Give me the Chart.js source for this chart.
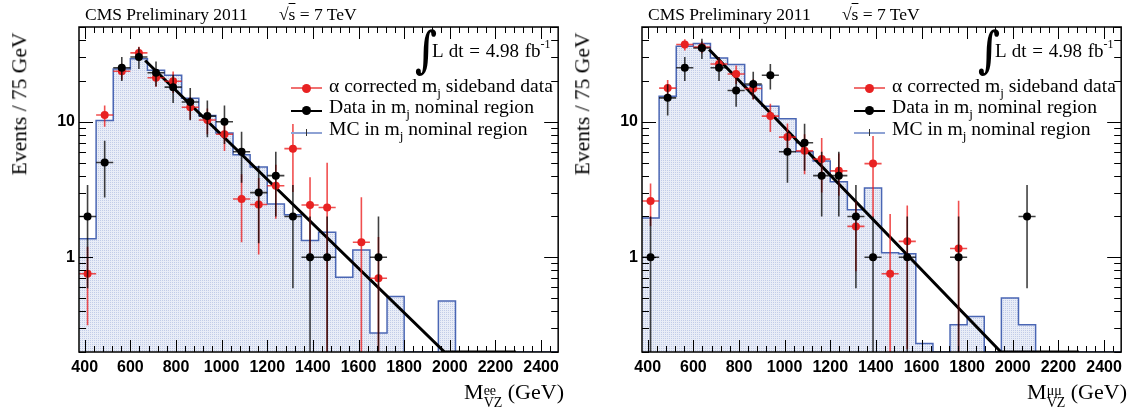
<!DOCTYPE html>
<html>
<head>
<meta charset="utf-8">
<script src="https://cdn.jsdelivr.net/npm/chart.js@4.4.1/dist/chart.umd.min.js"></script>
<style>
  body { margin: 0; background: #fff; width: 1131px; height: 408px; overflow: hidden; position: relative; }
  .panel { position: absolute; top: 0; width: 565px; height: 408px; font-family: 'Liberation Serif', 'Times New Roman', serif; color: #000; }
  .panel canvas { position: absolute; left: 0; top: 0; }
  .txt { position: absolute; white-space: nowrap; line-height: 1; }
  .txt sub { font-size: 13px; vertical-align: -5px; line-height: 0; }
  .txt sup { font-size: 12px; vertical-align: 9px; line-height: 0; }
  .head { top: 6px; font-size: 17.5px; }
  .lumi { left: 432px; top: 41px; font-size: 19px; word-spacing: 1px; }
  .integral { left: 415px; top: 29px; font-family: 'DejaVu Serif', serif; font-weight: bold; font-size: 38px; transform: scaleY(1.3); transform-origin: 50% 30%; }
  .legtxt { left: 329px; font-size: 19.6px; }
  .ytitle { left: 20px; top: 104px; font-size: 21.5px; transform: translate(-50%, -50%) rotate(-90deg); }
  .xtitle { right: 1px; top: 381px; font-size: 22px; }
  .supsub { display: inline-block; vertical-align: -8px; font-size: 14px; line-height: 12px; text-align: left; }
  .supsub span { display: block; }
  .leg-line { position: absolute; height: 2px; }
  .leg-dot { position: absolute; width: 9px; height: 9px; border-radius: 50%; }
</style>
</head>
<body>

<div class="panel" id="panelEE" style="left:0px">
  <canvas id="chartEE" width="565" height="408"></canvas>
  <div class="txt head" style="left:85px">CMS Preliminary 2011</div>
  <div class="txt head" style="left:279px">√<span style="text-decoration:overline">s</span> = 7 TeV</div>
  <div class="txt integral">∫</div>
  <div class="txt lumi">L dt = 4.98 fb<sup>-1</sup></div>
  <div class="leg-line" style="left:291px; top:87px; width:31px; background:#f07070"></div>
  <div class="leg-dot" style="left:302px; top:84px; background:#e82222"></div>
  <div class="txt legtxt" style="top:76px">α corrected m<sub>j</sub> sideband data</div>
  <div class="leg-line" style="left:291px; top:110px; width:31px; background:#000"></div>
  <div class="leg-dot" style="left:302px; top:106px; background:#000"></div>
  <div class="txt legtxt" style="top:97px">Data in m<sub>j</sub> nominal region</div>
  <div class="leg-line" style="left:291px; top:132px; width:31px; background:#8ea2d4"></div>
  <div class="leg-line" style="left:306px; top:129px; width:1px; height:7px; background:#333"></div>
  <div class="txt legtxt" style="top:119px">MC in m<sub>j</sub> nominal region</div>
  <div class="txt ytitle">Events / 75 GeV</div>
  <div class="txt xtitle">M<span class="supsub"><span>ee</span><span>VZ</span></span> (GeV)</div>
</div>

<div class="panel" id="panelMM" style="left:563px">
  <canvas id="chartMM" width="565" height="408"></canvas>
  <div class="txt head" style="left:85px">CMS Preliminary 2011</div>
  <div class="txt head" style="left:279px">√<span style="text-decoration:overline">s</span> = 7 TeV</div>
  <div class="txt integral">∫</div>
  <div class="txt lumi">L dt = 4.98 fb<sup>-1</sup></div>
  <div class="leg-line" style="left:291px; top:87px; width:31px; background:#f07070"></div>
  <div class="leg-dot" style="left:302px; top:84px; background:#e82222"></div>
  <div class="txt legtxt" style="top:76px">α corrected m<sub>j</sub> sideband data</div>
  <div class="leg-line" style="left:291px; top:110px; width:31px; background:#000"></div>
  <div class="leg-dot" style="left:302px; top:106px; background:#000"></div>
  <div class="txt legtxt" style="top:97px">Data in m<sub>j</sub> nominal region</div>
  <div class="leg-line" style="left:291px; top:132px; width:31px; background:#8ea2d4"></div>
  <div class="leg-line" style="left:306px; top:129px; width:1px; height:7px; background:#333"></div>
  <div class="txt legtxt" style="top:119px">MC in m<sub>j</sub> nominal region</div>
  <div class="txt ytitle">Events / 75 GeV</div>
  <div class="txt xtitle">M<span class="supsub"><span>μμ</span><span>VZ</span></span> (GeV)</div>
</div>

<script>
// 75 GeV bins from 375 to 2475
const massBins = [375, 450, 525, 600, 675, 750, 825, 900, 975, 1050, 1125, 1200, 1275, 1350,
  1425, 1500, 1575, 1650, 1725, 1800, 1875, 1950, 2025, 2100, 2175, 2250, 2325, 2400, 2475];

const xTickLabels = [400, 600, 800, 1000, 1200, 1400, 1600, 1800, 2000, 2200, 2400];
const yTickLabels = [1, 10];
const yRange = [0.2, 50];

// electron channel
const mcEE = [1.37, 10.2, 24.5, 29.1, 24.0, 22.0, 14.9, 11.1, 8.26, 5.7, 4.64, 2.47, 2.06, 1.33,
  1.53, 0.713, 1.13, 0.276, 0.514, 0, 0, 0.475, 0, 0, 0, 0, 0, 0];
const dataEE = [2, 5, 25, 30, 23, 18, 14, 11, 10, 6, 3, 4, 2, 1, 1, 0, 0, 1];
const dataEEErr = [1.41, 2.24, 5.0, 5.48, 4.8, 4.24, 3.74, 3.32, 3.16, 2.45, 1.73, 2.0, 1.41, 1, 1, 0, 0, 1];
const sideEE = [0.755, 11.2, 23.6, 32.2, 21.1, 19.9, 12.8, 10.3, 8.08, 2.69, 2.45, 3.37, 6.33, 2.43,
  2.33, null, 1.29, 0.70];
const sideEEErr = [0.44, 2.0, 3.2, 3.6, 3.0, 3.6, 2.4, 2.2, 2.0, 1.4, 1.4, 1.45, 3.3, 1.46, 2.66, null, 1.48, 0.71];
const fitEEMass = [665, 1977, 2290];
const fitEEVal = [28.3, 0.2, 0.2];

// muon channel
const mcMM = [1.95, 15.4, 36.0, 37.7, 29.5, 26.4, 18.6, 13.0, 10.5, 6.0, 5.14, 3.60, 2.24, 3.24,
  1.08, 1.06, 0.231, 0, 0.318, 0.366, 0, 0.50, 0.318, 0, 0, 0, 0, 0];
const dataMM = [1, 15, 25, 35, 25, 17, 19, 22, 6, 7, 4, 4, 2, 1, 0, 1, 0, 0, 1, 0, 0, 0, 2];
const dataMMErr = [1, 3.87, 5.0, 5.92, 5.0, 4.12, 4.36, 4.69, 2.45, 2.65, 2.0, 2.0, 1.41, 1, 0, 1, 0, 0, 1, 0, 0, 0, 1.41];
const sideMM = [2.6, 17.7, 37.1, 35.5, 26.7, 22.5, 17.6, 11.0, 7.7, 6.1, 5.3, 4.34, 1.69, 4.91,
  0.755, 1.31, null, null, 1.16];
const sideMMErr = [0.9, 2.6, 3.5, 3.5, 3.0, 3.5, 3.0, 2.6, 2.0, 2.0, 2.3, 1.5, 0.9, 2.94, 1.33, 1.1, null, null, 1.45];
const fitMMMass = [669, 1948, 2290];
const fitMMVal = [34.1, 0.2, 0.2];

const binWidth = massBins[1] - massBins[0];

// step outline: one point per bin low edge, plus the last upper edge
function histPoints(values) {
  const pts = values.map((v, i) => ({ x: massBins[i], y: Math.max(v, yRange[0]) }));
  pts.push({ x: massBins[massBins.length - 1], y: pts[pts.length - 1].y });
  return pts;
}

function markerPoints(values, errs) {
  const pts = [];
  values.forEach((v, i) => {
    if (v) pts.push({ x: (massBins[i] + massBins[i + 1]) / 2, y: v, err: errs[i] });
  });
  return pts;
}

// fine stipple used under the MC histogram
function dotFill(canvas) {
  const tile = document.createElement('canvas');
  tile.width = 2; tile.height = 2;
  const g = tile.getContext('2d');
  g.fillStyle = '#e9edf7';
  g.fillRect(0, 0, 2, 2);
  g.fillStyle = '#c2cce8';
  g.fillRect(0, 0, 1, 1);
  return canvas.getContext('2d').createPattern(tile, 'repeat');
}

// vertical + horizontal (bin width) error bars for datasets that carry errorColor
const errorBars = {
  id: 'errorBars',
  beforeDatasetDraw(chart, args) {
    const ds = chart.data.datasets[args.index];
    if (!ds.errorColor) return;
    const { ctx, chartArea: a, scales: { x, y } } = chart;
    ctx.save();
    ctx.beginPath();
    ctx.rect(a.left, a.top, a.right - a.left, a.bottom - a.top);
    ctx.clip();
    ctx.strokeStyle = ds.errorColor;
    ctx.lineWidth = 1.6;
    ctx.beginPath();
    ds.data.forEach(p => {
      const px = x.getPixelForValue(p.x);
      const py = y.getPixelForValue(p.y);
      const low = p.y - p.err;
      const pLow = low > yRange[0] ? y.getPixelForValue(low) : a.bottom;
      ctx.moveTo(px, y.getPixelForValue(p.y + p.err));
      ctx.lineTo(px, pLow);
      ctx.moveTo(x.getPixelForValue(p.x - binWidth / 2), py);
      ctx.lineTo(x.getPixelForValue(p.x + binWidth / 2), py);
    });
    ctx.stroke();
    ctx.restore();
  }
};

// box frame with inward ticks on all four sides
const frameTicks = {
  id: 'frameTicks',
  afterDatasetsDraw(chart) {
    const { ctx, chartArea: a, scales: { x, y } } = chart;
    ctx.save();
    ctx.strokeStyle = '#000';
    ctx.lineWidth = 1;
    ctx.beginPath();
    for (let v = 400; v <= 2450; v += 40) {
      const px = Math.round(x.getPixelForValue(v)) + 0.5;
      const len = xTickLabels.includes(v) ? 12 : 6;
      ctx.moveTo(px, a.bottom); ctx.lineTo(px, a.bottom - len);
      ctx.moveTo(px, a.top); ctx.lineTo(px, a.top + len);
    }
    [0.1, 1, 10].forEach(decade => {
      for (let m = 1; m <= 9; m++) {
        const v = m * decade;
        if (v < yRange[0] - 1e-9 || v > yRange[1] + 1e-9) continue;
        const py = Math.round(y.getPixelForValue(v)) + 0.5;
        const len = m === 1 ? 14 : 7;
        ctx.moveTo(a.left, py); ctx.lineTo(a.left + len, py);
        ctx.moveTo(a.right, py); ctx.lineTo(a.right - len, py);
      }
    });
    ctx.stroke();
    ctx.lineWidth = 1.5;
    ctx.strokeRect(a.left, a.top, a.right - a.left, a.bottom - a.top);
    ctx.restore();
  }
};

function makeChart(canvasId, mc, data, dataErr, side, sideErr, fitMass, fitVal) {
  const canvas = document.getElementById(canvasId);
  return new Chart(canvas, {
    type: 'scatter',
    data: {
      datasets: [
        {
          label: 'Data in mj nominal region',
          data: markerPoints(data, dataErr),
          errorColor: 'rgba(0,0,0,0.75)',
          backgroundColor: '#000',
          borderWidth: 0,
          pointRadius: 4,
          order: 1
        },
        {
          label: 'alpha corrected mj sideband data',
          data: markerPoints(side, sideErr),
          errorColor: 'rgba(235,20,20,0.75)',
          backgroundColor: '#e82222',
          borderWidth: 0,
          pointRadius: 4,
          order: 2
        },
        {
          label: 'fit',
          type: 'line',
          data: fitMass.map((m, i) => ({ x: m, y: fitVal[i] })),
          borderColor: '#000',
          borderWidth: 3,
          pointRadius: 0,
          fill: false,
          order: 3
        },
        {
          label: 'MC in mj nominal region',
          type: 'line',
          data: histPoints(mc),
          stepped: 'before',
          borderColor: '#4a66b4',
          borderWidth: 1.5,
          backgroundColor: dotFill(canvas),
          fill: 'start',
          pointRadius: 0,
          order: 4
        }
      ]
    },
    options: {
      responsive: false,
      animation: false,
      events: [],
      devicePixelRatio: 1,
      layout: { padding: { top: 27, right: 4, left: 0, bottom: 0 } },
      plugins: { legend: { display: false }, tooltip: { enabled: false } },
      scales: {
        x: {
          type: 'linear',
          min: massBins[0],
          max: massBins[massBins.length - 1],
          grid: { display: false, drawTicks: false },
          border: { display: false },
          afterBuildTicks: s => { s.ticks = xTickLabels.map(v => ({ value: v })); },
          afterFit: s => { s.height = 56; },
          ticks: {
            autoSkip: false,
            maxRotation: 0,
            padding: 6,
            color: '#000',
            font: { family: 'Liberation Sans', weight: 'bold', size: 16 },
            callback: v => String(v)
          }
        },
        y: {
          type: 'logarithmic',
          min: yRange[0],
          max: yRange[1],
          grid: { display: false, drawTicks: false },
          border: { display: false },
          afterBuildTicks: s => { s.ticks = yTickLabels.map(v => ({ value: v })); },
          afterFit: s => { s.width = 79; },
          ticks: {
            autoSkip: false,
            padding: 4,
            color: '#000',
            font: { family: 'Liberation Sans', weight: 'bold', size: 16 },
            callback: v => String(v)
          }
        }
      }
    },
    plugins: [errorBars, frameTicks]
  });
}

makeChart('chartEE', mcEE, dataEE, dataEEErr, sideEE, sideEEErr, fitEEMass, fitEEVal);
makeChart('chartMM', mcMM, dataMM, dataMMErr, sideMM, sideMMErr, fitMMMass, fitMMVal);
</script>
</body>
</html>
